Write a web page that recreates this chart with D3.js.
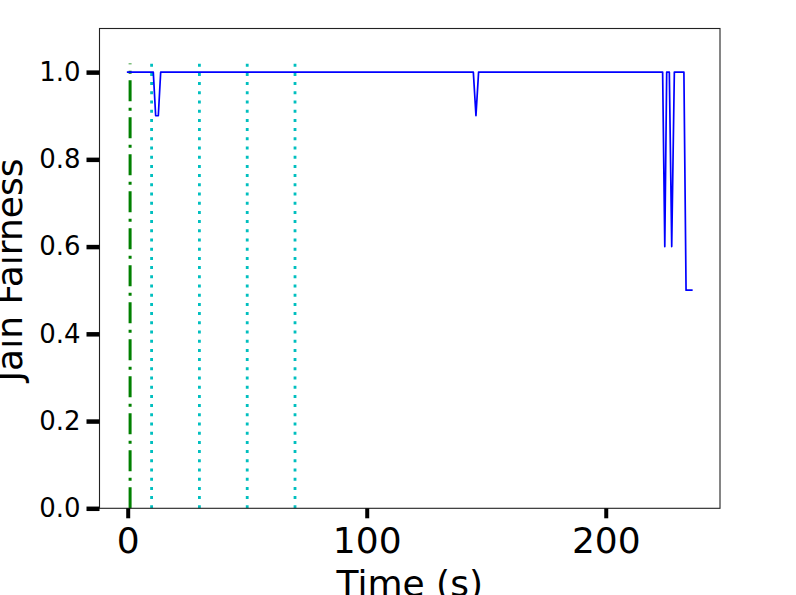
<!DOCTYPE html>
<html>
<head>
<meta charset="utf-8">
<script src="https://cdn.jsdelivr.net/npm/d3@7"></script>
<style>
  body { margin: 0; background: #fff; }
  svg { display: block; font-family: "DejaVu Sans", sans-serif; }
</style>
</head>
<body>
<div id="chart"></div>
<script>
// breakpoints of the fairness trace
var time = [0, 10.7, 11.7, 12.8, 13.8, 144.6, 145.7, 146.8, 223.8, 224.7, 225.5, 226.6, 227.6, 228.7, 232.7, 233.6, 236.0];
var fairness = [1, 1, 0.9, 0.9, 1, 1, 0.9, 1, 1, 0.6, 1, 1, 0.6, 1, 1, 0.5, 0.5];
var startLine = [1];          // green dash-dot marker
var eventLines = [10, 30, 50, 70]; // cyan dotted markers
var markerTop = 1.02;
var xTicks = [0, 100, 200];
var yTicks = [0, 0.2, 0.4, 0.6, 0.8, 1.0];

var width = 796, height = 595;
var plotLeft = 99.5, plotRight = 720, plotTop = 28.5, plotBottom = 508.3;

var svg = d3.select("#chart").append("svg")
  .attr("width", width)
  .attr("height", height);

var x = d3.scaleLinear().domain([-11.8, 247.8]).range([plotLeft, plotRight]);
var y = d3.scaleLinear().domain([0, 1.1]).range([plotBottom, plotTop]);

// vertical markers, drawn from bottom up so the dash pattern starts at y=0
var vline = d3.line().x(function(d){ return x(d[0]); }).y(function(d){ return y(d[1]); });

svg.append("g").selectAll("path")
  .data(eventLines)
  .enter().append("path")
    .attr("d", function(d){ return vline([[d, 0], [d, markerTop]]); })
    .attr("fill", "none")
    .attr("stroke", "#00bfbf")
    .attr("stroke-width", 2.8)
    .attr("stroke-dasharray", "3,6.2");

svg.append("g").selectAll("path")
  .data(startLine)
  .enter().append("path")
    .attr("d", function(d){ return vline([[d, 0], [d, markerTop]]); })
    .attr("fill", "none")
    .attr("stroke", "#008000")
    .attr("stroke-width", 3)
    .attr("stroke-dasharray", "21,6.5,3,6.5");

// fairness line
var pts = time.map(function(t, i){ return [t, fairness[i]]; });
svg.append("path")
  .datum(pts)
  .attr("d", vline)
  .attr("fill", "none")
  .attr("stroke", "#0000ff")
  .attr("stroke-width", 1.7)
  .attr("stroke-linecap", "square")
  .attr("stroke-linejoin", "round");

// frame
svg.append("rect")
  .attr("x", plotLeft).attr("y", plotTop)
  .attr("width", plotRight - plotLeft).attr("height", plotBottom - plotTop)
  .attr("fill", "none")
  .attr("stroke", "#222")
  .attr("stroke-width", 1.1);

// x axis
var xAxis = svg.append("g")
  .attr("transform", "translate(0," + plotBottom + ")")
  .call(d3.axisBottom(x).tickValues(xTicks).tickSize(10).tickPadding(9).tickFormat(d3.format("d")));
xAxis.select(".domain").remove();
xAxis.selectAll(".tick line").attr("stroke", "#000").attr("stroke-width", 4);
xAxis.selectAll(".tick text")
  .attr("font-size", 36)
  .attr("fill", "#000")
  .attr("font-family", "DejaVu Sans");

// y axis
var yAxis = svg.append("g")
  .attr("transform", "translate(" + plotLeft + ",0)")
  .call(d3.axisLeft(y).tickValues(yTicks).tickSize(13).tickPadding(6).tickFormat(d3.format(".1f")));
yAxis.select(".domain").remove();
yAxis.selectAll(".tick line").attr("stroke", "#000").attr("stroke-width", 4.5);
yAxis.selectAll(".tick text")
  .attr("font-size", 26)
  .attr("fill", "#000")
  .attr("font-family", "DejaVu Sans");

// axis labels
svg.append("text")
  .attr("x", (plotLeft + plotRight) / 2)
  .attr("y", 596)
  .attr("text-anchor", "middle")
  .attr("font-size", 36)
  .attr("fill", "#000")
  .text("Time (s)");

svg.append("text")
  .attr("transform", "translate(22," + 270 + ") rotate(-90)")
  .attr("text-anchor", "middle")
  .attr("font-size", 36)
  .attr("fill", "#000")
  .text("Jain Fairness");
</script>
</body>
</html>
